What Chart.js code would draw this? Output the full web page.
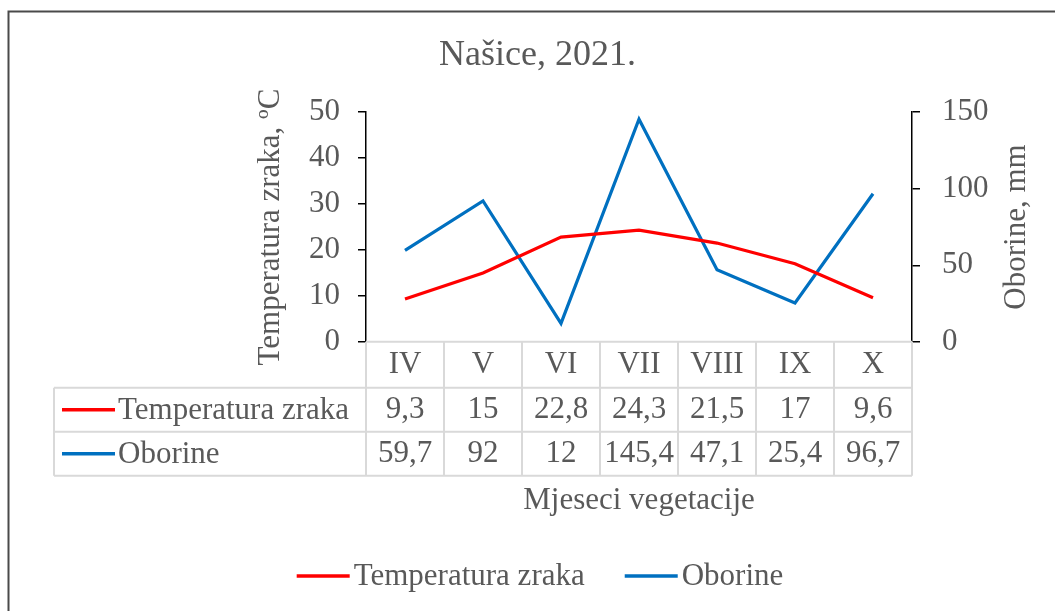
<!DOCTYPE html>
<html>
<head>
<meta charset="utf-8">
<script src="https://cdn.jsdelivr.net/npm/chart.js@4.4.1/dist/chart.umd.min.js"></script>
<style>
  html, body { margin: 0; padding: 0; background: #fff; }
  #wrap { width: 1055px; height: 611px; }
</style>
</head>
<body>
<div id="wrap"><canvas id="chart" width="1055" height="611"></canvas></div>
<script>
// ── data ──
const months = ["IV", "V", "VI", "VII", "VIII", "IX", "X"];
const temperatura = [9.3, 15, 22.8, 24.3, 21.5, 17, 9.6];
const oborine = [59.7, 92, 12, 145.4, 47.1, 25.4, 96.7];

const seriesNames = ["Temperatura zraka", "Oborine"];
const tempTicks = { min: 0, max: 50, step: 10 };
const rainTicks = { min: 0, max: 150, step: 50 };

const RED = "#ff0000";
const BLUE = "#0070c0";
const TXT = "#595959";
const FAMILY = "'Liberation Serif', 'Times New Roman', serif";
const FS = 31;

const fmt = (v) => String(v).replace(".", ",");

function legendKey(ctx, color, x0, x1, y) {
  ctx.strokeStyle = color;
  ctx.lineWidth = 3.5;
  ctx.beginPath();
  ctx.moveTo(x0, y);
  ctx.lineTo(x1, y);
  ctx.stroke();
}

// ── custom drawing: frame, right axis title, data table, legend ──
const extras = {
  id: "extras",
  beforeDraw(chart) {
    const ctx = chart.ctx;
    ctx.save();
    ctx.strokeStyle = "#4a4a4a";
    ctx.lineWidth = 2;
    ctx.beginPath();
    ctx.moveTo(8.5, 611);
    ctx.lineTo(8.5, 11.5);
    ctx.lineTo(1055, 11.5);
    ctx.stroke();
    ctx.restore();
  },
  afterDraw(chart) {
    const ctx = chart.ctx;
    const area = chart.chartArea;
    const xs = chart.scales.x;
    const half = (xs.getPixelForValue(1) - xs.getPixelForValue(0)) / 2;
    const top = area.bottom;
    const rows = [top, top + 46, top + 90, top + 134];
    const labelLeft = 54;

    ctx.save();
    // right axis title, reads bottom-to-top like the left one
    ctx.font = `${FS}px ${FAMILY}`;
    ctx.fillStyle = TXT;
    ctx.textAlign = "center";
    ctx.textBaseline = "middle";
    ctx.translate(1017, (area.top + area.bottom) / 2);
    ctx.rotate(-Math.PI / 2);
    ctx.fillText("Oborine, mm", 0, 0);
    ctx.restore();

    ctx.save();
    ctx.strokeStyle = "#d9d9d9";
    ctx.lineWidth = 2;
    ctx.beginPath();
    ctx.moveTo(area.left, rows[0]);
    ctx.lineTo(area.right, rows[0]);
    for (let r = 1; r < rows.length; r++) {
      ctx.moveTo(labelLeft, rows[r]);
      ctx.lineTo(area.right, rows[r]);
    }
    ctx.moveTo(labelLeft, rows[1]);
    ctx.lineTo(labelLeft, rows[3]);
    for (let i = 0; i <= months.length; i++) {
      const x = xs.getPixelForValue(0) - half + i * 2 * half;
      ctx.moveTo(x, rows[0]);
      ctx.lineTo(x, rows[3]);
    }
    ctx.stroke();

    ctx.font = `${FS}px ${FAMILY}`;
    ctx.fillStyle = TXT;
    ctx.textAlign = "center";
    ctx.textBaseline = "middle";
    const mid = (r) => (rows[r] + rows[r + 1]) / 2;
    months.forEach((m, i) => {
      const x = xs.getPixelForValue(i);
      ctx.fillText(m, x, mid(0));
      ctx.fillText(fmt(temperatura[i]), x, mid(1));
      ctx.fillText(fmt(oborine[i]), x, mid(2));
    });

    const colors = [RED, BLUE];
    seriesNames.forEach((name, k) => {
      const y = mid(k + 1);
      legendKey(ctx, colors[k], 62, 115, y);
      ctx.textAlign = "left";
      ctx.fillText(name, 118, y + 1);
    });

    // bottom legend
    const keyW = 53, keyGap = 4, itemGap = 40, ly = 576;
    const w0 = ctx.measureText(seriesNames[0]).width;
    const w1 = ctx.measureText(seriesNames[1]).width;
    const total = keyW + keyGap + w0 + itemGap + keyW + keyGap + w1;
    let x = 540 - total / 2;
    seriesNames.forEach((name, k) => {
      legendKey(ctx, colors[k], x, x + keyW, ly);
      x += keyW + keyGap;
      ctx.textAlign = "left";
      ctx.fillText(name, x, ly + 1);
      x += (k === 0 ? w0 : w1) + itemGap;
    });
    ctx.restore();
  },
};

Chart.defaults.font.family = FAMILY;
Chart.defaults.color = TXT;

new Chart(document.getElementById("chart"), {
  type: "line",
  data: {
    labels: months,
    datasets: [
      {
        label: seriesNames[0],
        data: temperatura,
        borderColor: RED,
        backgroundColor: RED,
        borderWidth: 3.2,
        pointRadius: 0,
        tension: 0,
        yAxisID: "y",
      },
      {
        label: seriesNames[1],
        data: oborine,
        borderColor: BLUE,
        backgroundColor: BLUE,
        borderWidth: 3.2,
        pointRadius: 0,
        tension: 0,
        yAxisID: "y1",
      },
    ],
  },
  options: {
    responsive: false,
    animation: false,
    layout: { padding: { left: 20, right: 0, top: 0, bottom: 62 } },
    plugins: {
      title: {
        display: true,
        text: "Našice, 2021.",
        color: TXT,
        font: { size: 36, weight: "normal", lineHeight: 1.2 },
        padding: { top: 34, bottom: 35 },
      },
      legend: { display: false },
      tooltip: { enabled: false },
    },
    scales: {
      x: {
        type: "category",
        offset: true,
        ticks: { display: false },
        grid: { display: false, drawTicks: false },
        border: { display: false },
        title: {
          display: true,
          text: "Mjeseci vegetacije",
          color: TXT,
          font: { size: FS, lineHeight: 1.2 },
          padding: { top: 140, bottom: 30 },
        },
      },
      y: {
        position: "left",
        min: tempTicks.min,
        max: tempTicks.max,
        ticks: { stepSize: tempTicks.step, padding: 18, color: TXT, font: { size: FS } },
        grid: { drawOnChartArea: false, drawTicks: true, tickLength: 8, color: "#000", lineWidth: 1.5 },
        border: { display: true, color: "#000", width: 1.5 },
        title: {
          display: true,
          text: "Temperatura zraka, ºC",
          color: TXT,
          font: { size: FS, lineHeight: 1.2 },
          padding: { top: 232, bottom: 0 },
        },
        afterFit(scale) { scale.width = 346; },
      },
      y1: {
        position: "right",
        min: rainTicks.min,
        max: rainTicks.max,
        ticks: { stepSize: rainTicks.step, padding: 22, color: TXT, font: { size: FS } },
        grid: { drawOnChartArea: false, drawTicks: true, tickLength: 8, color: "#000", lineWidth: 1.5 },
        border: { display: true, color: "#000", width: 1.5 },
        afterFit(scale) { scale.width = 143; },
      },
    },
  },
  plugins: [extras],
});
</script>
</body>
</html>
